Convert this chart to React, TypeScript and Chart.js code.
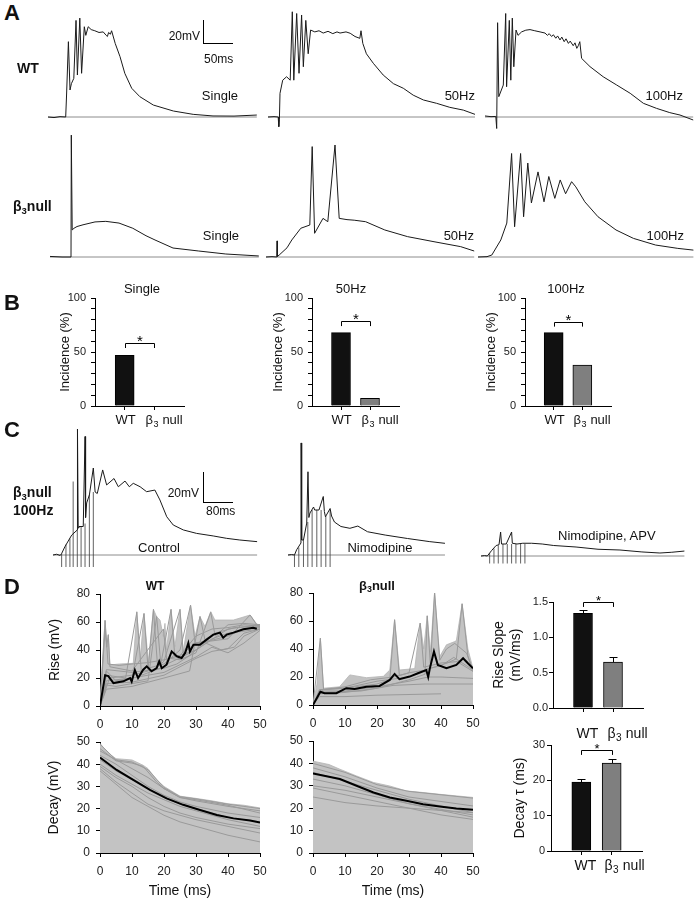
import React, { useEffect, useRef } from "react";
import { Chart, registerables } from "chart.js";

Chart.register(...registerables);

const FONT = '"Liberation Sans", Arial, Helvetica, sans-serif';
Chart.defaults.font.family = FONT;
Chart.defaults.color = "#1a1a1a";

type Pt = [number, number];

// ---------- Panel A traces: [time ms, mV above baseline] ----------
const wtSingle: Pt[] = [[0,0],[10,-0.5],[20,0.3],[29.5,0],[31,20],[34,65.5],[36.7,23.5],[39,29],[43,33.6],[46.7,84],[49,36.5],[53,86],[56,38],[60.5,78.5],[63,71],[67,78.5],[72,76],[78,75],[85,73.5],[92,74],[97,71],[99,70],[101,73.5],[104,72],[106,75],[112,64],[120,52.5],[128,38],[139.5,25],[153,17.7],[175.5,10.4],[209,5.2],[242,2.3],[275,0.9],[310,0.8],[348,1.7]];
const wt50: Pt[] = [[0,0],[10,0.3],[17,0],[18,-8.4],[19,-2],[20,20.6],[24.5,32],[31,35],[37,32],[40.5,91.5],[43,32],[47.8,90],[51.7,38],[56,88.7],[58.9,43.7],[63,84],[67,55],[71,75.6],[78,74],[85,75],[92,73],[100,74.5],[108,72.5],[115,74],[120,73],[130,74],[137,72.8],[145,70],[150,69],[153,68.4],[155,75],[158,64],[164,55],[175.5,46.7],[192,36.5],[209,29],[225.5,25],[242,19],[259,14.8],[281,11.9],[303,8.4],[325.5,6],[345,2.3]];
const wt100: Pt[] = [[0,0.9],[10,0.3],[18,0.5],[19.5,-10],[21,82],[23,17.7],[30.5,27.8],[34.5,90],[36,26.3],[40.5,84],[43,32],[45.5,86],[48,43.7],[51.7,75.6],[55,71],[61,74],[68,75.5],[75,76],[83,75],[91.7,74],[100,73],[104,71],[107,72.5],[111,70],[114,71.5],[118,68.5],[121,70.5],[125,67],[128,69.5],[132,65.5],[135,68],[139,64],[142,66],[147,62],[150,64.5],[153,59.7],[155.5,62],[158,65.5],[161,51],[175,43.8],[197,35],[219.5,27.8],[242,20.6],[264,11.9],[286,7.5],[308,3.8],[325,1.7],[347,-2.6]];
const b3Single: Pt[] = [[0,0.5],[20,0],[35,0],[35.5,106],[37,23.5],[40,25],[45,26.5],[55,28],[75,30.5],[93,31],[115,29.5],[138,25],[160,18.5],[175,14.8],[205,7.8],[248,5.2],[293,2.6],[348,0.9]];
const b350: Pt[] = [[0,0],[10,0.3],[18,0],[18.5,14],[19,0.5],[22,1.7],[35,8],[43,14.8],[58,25],[73,27.8],[77,96],[81,20.6],[95,33.6],[103,30.7],[115,97.4],[122,33.6],[135,32.5],[147,32],[166,30.7],[198,23.5],[236,17.7],[280,13.3],[324.5,9],[347,5.2]];
const b3100: Pt[] = [[0,0],[15,0.3],[23,1.7],[38,14.8],[48,29.5],[56,90],[61,26.3],[71,90],[76,35],[83,81.7],[89,47],[100,74],[110,48],[118,70],[128,51],[137,67],[146,55],[156,65.5],[163,61],[178,48],[200,35],[230,23.5],[259,16.2],[296,10.4],[333,7.5],[359,6]];

// ---------- Panel B incidence (%) ----------
const groupLabels = ["WT", "β", "3", "null"];
const incSingle = [47, 0];
const inc50 = [68, 7];
const inc100 = [68, 38];

// ---------- Panel C traces ----------
const controlTrace: Pt[] = [[0,0],[10,0.5],[20,-0.3],[24,1],[33,5.5],[52,13.3],[67.5,16.7],[68,84],[70,18],[72,19],[84,19],[89,79],[90.5,25],[93.5,34.7],[101,40],[112,58],[117,42],[123,41],[138,56.7],[149,46.7],[169.5,51],[181.5,45.5],[200,49.3],[212,45.5],[223,47.8],[242,45.5],[260,42.2],[283,43.3],[297,36.7],[316,25.5],[334,20],[362,16.7],[399,14.4],[445,12.7],[482.5,11.1],[519,10],[567,8.9]];
const controlStims = [24, 36, 47, 56, 67.5, 78, 89, 101, 112];
const controlStimTops = [1, 7, 11, 49, 17, 19, 21, 40, 42];
const nimTrace: Pt[] = [[0,0],[10,0.3],[18,0],[24,3.5],[36,8],[36.5,74.7],[38,10],[43,10],[52,21.3],[55.5,55.5],[58,25],[61,28],[71,32],[74,30],[86,30],[98,39],[101,29],[104,25.5],[117,31],[121,26],[129,22],[147,19],[172,17.8],[194,19.3],[221,15.5],[270,13.3],[332,11],[394,8.9],[436,7.8]];
const nimStims = [18, 30, 43, 55, 67, 80, 92, 105, 117];
const nimStimTops = [0, 5, 10, 22, 30, 30, 30, 26, 30];
const apvTrace: Pt[] = [[0,0],[10,0.3],[17.5,0],[30,3.8],[42,7],[50,7.5],[54.5,16],[57,8],[70,8],[85,16],[87,8.5],[100,8],[116,8.5],[140.5,8.5],[170,8],[202,7],[264,6],[325,4.5],[386,4],[447,2.7],[497,2],[530,2.5],[565,3.3]];
const apvStims = [24, 36, 48, 61, 73, 85, 97, 110, 122];
const apvStimTops = [2, 5, 7, 8, 8, 8, 8, 8, 8];

// ---------- Panel D ----------
const wtRiseEnvelope: Pt[] = [[0,0],[1.56,61.4],[2.08,42.4],[2.6,50.7],[3.1,29.3],[6,30],[10.4,30.5],[11.5,67.4],[12.5,31.7],[13.75,66.2],[15.1,31],[16.7,69],[17.7,63.8],[18.75,61.4],[19.8,49.5],[20.3,59],[20.8,40],[22.2,69],[23.4,42.4],[25,69],[26,38.5],[28.3,72.1],[29.7,50],[31.25,63.8],[32.8,56.7],[34.6,67.4],[35.9,61.4],[41.7,61.4],[46.9,65],[49,58.5],[50,58]];
const wtRiseMean: Pt[] = [[0,0],[1.6,22],[2.6,21.4],[4.2,16.4],[7.3,17.6],[9.4,20],[9.9,17.5],[10.9,25.7],[11.9,20],[13.5,25.9],[14.6,28.3],[16.1,24.8],[17.7,27.1],[18.5,31.9],[19.3,27],[20.8,29.5],[22.4,39],[24,35.5],[25.5,34.3],[26.6,37.9],[27.6,45],[28.1,39],[29.2,43.8],[31.25,43.8],[33.3,47.4],[35.4,51],[37.5,52.4],[38.5,48.8],[39.6,51],[41.7,52.4],[44.8,54.8],[47.9,55.9],[49,55.2]];
const wtRiseTraces: Pt[][] = [
  [[0,0],[1.6,61],[2.5,30],[6,29],[10,30],[15,31],[20,33],[25,36],[30,50],[35,55],[40,56],[45,58],[50,57]],
  [[0,0],[2,25],[5,18],[10,20],[13.75,66],[15,27],[20,30],[25,40],[28.3,72],[29.7,45],[35,47],[40,50],[45,55],[50,56]],
  [[0,0],[2,15],[5,14],[10,16],[15,18],[17.7,64],[19,30],[22.2,69],[23.4,35],[30,40],[35,48],[40,52],[50,55]],
  [[0,0],[3,20],[10,22],[15,25],[16.7,69],[18,28],[20,32],[25,69],[26,38],[30,45],[40,48],[46.9,65],[49,58],[50,57]],
  [[0,0],[2,12],[10,14],[20,20],[28,25],[31.25,64],[33,45],[38,40],[42,42],[45,50],[50,55]],
  [[0,0],[2,22],[8,20],[11.5,67],[13,22],[20,28],[22,34],[25,33],[30,38],[34.6,67],[36,50],[40,58],[45,59],[50,58]],
  [[0,0],[2,18],[10,20],[20,24],[30,35],[35,42],[40,38],[45,45],[50,54]],
  [[0,0],[1.6,55],[2.1,42],[2.6,51],[3.1,28],[10,25],[19.8,55],[21,30],[30,40],[40,55],[50,58]],
  [[0,0],[2,16],[10,17],[20,22],[25,28],[30,34],[35,39],[40,41],[45,52],[50,55]],
  [[0,0],[2,26],[10,24],[20,27],[24,30],[28,36],[32,44],[36,52],[42,56],[48,57],[50,57]],
];
const b3RiseEnvelope: Pt[] = [[0,0],[1.25,15],[2.3,47.7],[3.3,12],[8.3,13],[11.5,21.5],[16.7,19.5],[22,20.5],[24,25],[25.5,60.9],[27,25],[31.8,26],[33.5,58.5],[34.6,40],[35.7,63.7],[36.7,38],[38,80.4],[39.6,34.6],[41.7,43],[44.3,45.3],[44.8,46],[46.6,72.3],[48.4,40],[50,26]];
const b3RiseMean: Pt[] = [[0,0],[2.3,9.5],[3.6,8.4],[7.3,8.4],[10.4,12],[13,11.5],[16.7,13.1],[20.8,13.6],[24,17.9],[25.5,22.2],[27,18.4],[30.2,20.3],[32.8,22.7],[35.4,25],[36,20],[36.5,26],[37.8,38.2],[39,28.6],[41.7,26.3],[44.8,28.6],[46.9,33.4],[48.4,29.8],[50,26.2]];
const b3RiseTraces: Pt[][] = [
  [[0,0],[2.3,47.7],[3.3,11],[10,12],[20,15],[24,18],[25.5,60.9],[27,21],[30,23],[33.5,58.5],[34.6,27],[40,30],[45,31],[50,24]],
  [[0,0],[2,8],[10,9],[20,12],[30,18],[35,22],[35.7,63.7],[36.7,28],[38,80.4],[39.6,32],[41.7,40],[44.3,44],[48,37],[50,25]],
  [[0,0],[2,6],[10,6],[20,7],[30,7.5],[40,8]],
  [[0,0],[2,10],[10,10],[20,13],[30,17],[36,20],[40,20],[50,19]],
  [[0,0],[3,11],[10,13],[18,18],[25,20],[30,23],[35,25],[42,30],[44.8,33],[46.6,72.3],[48.4,35],[50,24]],
  [[0,0],[2,9],[15,10],[25,14],[35,15],[45,15],[50,15]],
  [[0,0],[2,11],[10,12],[20,17],[30,20],[36,26],[40,28],[44,34],[50,25]],
];
const wtDecayEnvelope: Pt[] = [[0,49.4],[2.5,45],[5,42.5],[10,41.9],[13.5,39.5],[15,38],[17.7,33],[20,30],[25,25.6],[30,24.6],[35,23.5],[40,22.2],[45,21.5],[50,20.3]];
const wtDecayMean: Pt[] = [[0,43],[5.2,37.4],[10.4,32.9],[15.6,28.4],[20.8,24.6],[26,21.7],[31.25,19.4],[36.5,17.1],[41.7,15.6],[46.9,14.6],[50,13.7]];
const wtDecayTraces: Pt[][] = [
  [[0,49],[5,42],[10,41],[15,37.5],[20,29.5],[25,25.4],[30,24.4],[35,23.2],[40,22],[50,20]],
  [[0,47],[5,41.5],[10,40.5],[13.5,39],[17.7,32],[20,29],[25,25],[30,24],[40,21.5],[50,18]],
  [[0,46],[5,42],[10,38],[15,34],[20,29],[25,25],[30,23.5],[40,21],[50,19]],
  [[0,44],[5,40],[10,35],[15,30],[20,26],[25,23],[30,21],[40,18],[50,16]],
  [[0,42],[5,37],[10,33],[15,29],[20,25],[25,22],[30,20],[40,16],[50,14]],
  [[0,40],[5,35],[10,31],[15,27],[20,24],[25,21],[30,19],[40,15],[50,12]],
  [[0,39],[5,34],[10,30],[15,25],[20,21],[25,18],[30,16],[40,13],[50,11]],
  [[0,38],[5,32],[10,27],[15,22],[20,19],[25,17],[30,15],[40,12],[50,9]],
  [[0,37],[5,31],[10,25],[15,21],[20,17],[25,14],[30,12],[40,8],[50,5]],
];
const b3DecayEnvelope: Pt[] = [[0,41],[5,39.5],[8.4,37.4],[13.6,34.4],[18.9,31.5],[24,29.9],[29.2,27.7],[34.4,27],[39.6,26.2],[44.8,25.5],[50,24.8]];
const b3DecayMean: Pt[] = [[0,35.5],[8.4,33],[13.6,30],[18.9,27],[24,24.8],[29.2,23.3],[34.4,21.8],[39.6,20.8],[44.8,19.9],[50,19.3]];
const b3DecayTraces: Pt[][] = [
  [[0,40],[10,36],[20,30.5],[30,27.5],[40,26],[50,24.5]],
  [[0,38],[10,34],[20,29],[30,25],[40,23],[50,21]],
  [[0,36],[10,32],[20,28],[30,24],[40,21],[50,18]],
  [[0,33],[10,30],[20,26],[30,22],[40,19],[50,16]],
  [[0,30],[10,28],[20,25],[30,22],[40,19.5],[50,17]],
  [[0,25],[10,22.5],[20,21],[30,20],[40,19],[50,18]],
  [[0,29],[10,26],[20,23],[30,20],[40,17],[50,15]],
];
const riseSlope = [1.34, 0.65];
const riseSlopeErr = [0.04, 0.07];
const decayTau = [19.5, 24.9];
const decayTauErr = [0.8, 1.0];

// ---------- helpers ----------
const toXY = (a: Pt[]) => a.map(([x, y]) => ({ x, y }));
const tickGrid = { display: true, drawOnChartArea: false, drawTicks: true, tickLength: 4, tickColor: "#000", lineWidth: 1, offset: false };
const axisBorder = { display: true, color: "#000", width: 1 };

function ChartCanvas({ left, top, width, height, make }: any) {
  const ref = useRef<HTMLCanvasElement>(null);
  useEffect(() => {
    const c = new Chart(ref.current as HTMLCanvasElement, make());
    return () => c.destroy();
  }, []);
  return <canvas ref={ref} width={width} height={height} style={{ position: "absolute", left, top, width, height }} />;
}

function Txt({ x, y, s = 13, b = false, a = "left", children }: any) {
  const tx = a === "left" ? "0" : a === "right" ? "-100%" : "-50%";
  return (
    <div style={{ position: "absolute", left: x, top: y - 0.8465 * s, fontFamily: FONT, fontSize: s, fontWeight: b ? 700 : 400, lineHeight: 1, whiteSpace: "nowrap", transform: `translateX(${tx})`, color: "#111" }}>
      {children}
    </div>
  );
}

const Beta = () => (
  <>β<span style={{ fontSize: "0.68em", position: "relative", top: "0.28em" }}>3</span>null</>
);

function TracePanel({ x0, base, tEnd, msPx, mvPx, trace, stims, stimTops, stimLow }: any) {
  const padL = 10, padR = 12, above = 140, below = 22;
  const left = Math.round(x0 - padL);
  const pl = x0 - left;
  const width = Math.ceil(pl + tEnd * msPx + padR);
  const top = Math.round(base - above);
  const ab = base - top;
  const height = Math.ceil(ab + below);
  const make = () => {
    const datasets: any[] = [
      { data: toXY(trace), borderColor: "#1a1a1a", borderWidth: 1, order: 1 },
      { data: [{ x: 0, y: 0 }, { x: tEnd, y: 0 }], borderColor: "#8c8c8c", borderWidth: 1, order: 3 },
    ];
    (stims || []).forEach((t: number, i: number) => {
      datasets.push({ data: [{ x: t, y: stimLow }, { x: t, y: stimTops[i] }], borderColor: "#3a3a3a", borderWidth: 0.8, order: 2 });
    });
    datasets.forEach((d) => { d.pointRadius = 0; d.tension = 0; d.fill = false; d.clip = false; });
    return {
      type: "line",
      data: { datasets },
      options: {
        animation: false, responsive: false, events: [],
        layout: { padding: 0 },
        plugins: { legend: { display: false }, tooltip: { enabled: false } },
        scales: {
          x: { type: "linear", display: false, min: -pl / msPx, max: (width - pl) / msPx },
          y: { type: "linear", display: false, min: -(height - ab) / mvPx, max: ab / mvPx },
        },
      },
    };
  };
  return <ChartCanvas left={left} top={top} width={width} height={height} make={make} />;
}

function axisBox(areaLeft: number, areaTop: number, areaW: number, areaH: number, yW: number, xH: number) {
  const padT = 16, padR = 16;
  const left = Math.round(areaLeft - yW);
  const yw = areaLeft - left;
  const top = areaTop - padT;
  const width = Math.ceil(yw + areaW + padR);
  const pr = width - yw - areaW;
  const height = Math.ceil(padT + areaH + xH + 2);
  const pb = height - padT - areaH - xH;
  return { left, top, width, height, yw, padding: { top: padT, right: pr, bottom: pb, left: 0 } };
}

function LinePlot(p: any) {
  const b = axisBox(p.areaLeft, p.areaTop, 160, p.areaH, p.yW, p.xH);
  const make = () => ({
    type: "line",
    data: {
      datasets: [
        { data: toXY(p.mean), borderColor: "#000", borderWidth: 2, order: 1 },
        ...p.traces.map((t: Pt[]) => ({ data: toXY(t), borderColor: "#9a9a9a", borderWidth: 1, order: 2 })),
        { data: toXY(p.envelope), borderColor: "#b4b4b4", borderWidth: 0.8, backgroundColor: "#c3c3c3", fill: "origin", order: 3 },
      ].map((d: any) => ({ ...d, pointRadius: 0, tension: 0 })),
    },
    options: {
      animation: false, responsive: false, events: [],
      layout: { padding: b.padding },
      plugins: { legend: { display: false }, tooltip: { enabled: false } },
      scales: {
        x: {
          type: "linear", min: 0, max: 50,
          afterFit: (s: any) => { s.height = p.xH; },
          ticks: { stepSize: 10, font: { size: 12 }, padding: 7, maxRotation: 0, color: "#222" },
          grid: tickGrid, border: axisBorder,
          title: p.xTitle ? { display: true, text: p.xTitle, font: { size: 14 }, padding: 0, color: "#111" } : { display: false },
        },
        y: {
          type: "linear", min: 0, max: p.yMax,
          afterFit: (s: any) => { s.width = b.yw; },
          ticks: { stepSize: p.yStep, font: { size: 12 }, padding: 6, color: "#222" },
          grid: tickGrid, border: axisBorder,
          title: p.yTitle ? { display: true, text: p.yTitle, font: { size: 14 }, padding: 0, color: "#111" } : { display: false },
        },
      },
    },
  });
  return <ChartCanvas left={b.left} top={b.top} width={b.width} height={b.height} make={make} />;
}

function BarPlot(p: any) {
  const b = axisBox(p.areaLeft, p.areaTop, p.areaW, p.areaH, p.yW, p.xH);
  const annot = {
    id: "annot",
    afterDatasetsDraw(chart: any) {
      const { ctx, scales, chartArea } = chart;
      const x = scales.x, y = scales.y;
      ctx.save();
      ctx.strokeStyle = "#000";
      ctx.lineWidth = 1;
      if (p.errs) {
        p.errs.forEach((e: number, i: number) => {
          const px = Math.round(x.getPixelForValue(i + 1)) + 0.5;
          const y0 = y.getPixelForValue(p.values[i]);
          const y1 = Math.round(y.getPixelForValue(p.values[i] + e)) + 0.5;
          ctx.beginPath();
          ctx.moveTo(px, y0); ctx.lineTo(px, y1);
          ctx.moveTo(px - 4, y1); ctx.lineTo(px + 4, y1);
          ctx.stroke();
        });
      }
      const bx1 = Math.round(x.getPixelForValue(1)) + 0.5;
      const bx2 = Math.round(x.getPixelForValue(2)) + 0.5;
      const by = Math.round(y.getPixelForValue(p.bracket[0])) + 0.5;
      const byd = y.getPixelForValue(p.bracket[1]);
      ctx.beginPath();
      ctx.moveTo(bx1, byd); ctx.lineTo(bx1, by); ctx.lineTo(bx2, by); ctx.lineTo(bx2, byd);
      ctx.stroke();
      ctx.fillStyle = "#000";
      ctx.font = `${p.starSize}px ${FONT}`;
      ctx.textAlign = "center";
      ctx.textBaseline = "alphabetic";
      ctx.fillText("*", (bx1 + bx2) / 2, by - p.starGap + 0.57 * p.starSize);
      // group labels: "WT" and "β3 null" (subscript 3)
      const f = p.xFont;
      const base = chartArea.bottom + p.labelBase;
      ctx.fillStyle = "#111";
      ctx.font = `${f}px ${FONT}`;
      ctx.fillText(groupLabels[0], bx1 + p.wtOff, base);
      ctx.textAlign = "left";
      let xx = bx2 + p.betaOff;
      ctx.fillText(groupLabels[1], xx, base);
      xx += ctx.measureText(groupLabels[1]).width + 0.5;
      ctx.font = `${Math.round(f * 0.68)}px ${FONT}`;
      ctx.fillText(groupLabels[2], xx, base + f * 0.24);
      xx += ctx.measureText(groupLabels[2]).width + f * 0.3;
      ctx.font = `${f}px ${FONT}`;
      ctx.fillText(groupLabels[3], xx, base);
      ctx.restore();
    },
  };
  const make = () => ({
    type: "bar",
    data: {
      datasets: [{
        data: p.values.map((v: number, i: number) => ({ x: i + 1, y: v })),
        backgroundColor: ["#111111", "#7f7f7f"],
        borderColor: "#000",
        borderWidth: 1,
        borderSkipped: "start",
        barThickness: p.barW,
      }],
    },
    plugins: [annot],
    options: {
      animation: false, responsive: false, events: [],
      layout: { padding: b.padding },
      plugins: { legend: { display: false }, tooltip: { enabled: false } },
      scales: {
        x: {
          type: "linear", min: 0, max: 3, offset: false,
          afterFit: (s: any) => { s.height = p.xH; },
          afterBuildTicks: (s: any) => { s.ticks = [{ value: 1 }, { value: 2 }]; },
          ticks: { callback: () => "", font: { size: p.xFont }, padding: 2, maxRotation: 0, autoSkip: false },
          grid: tickGrid, border: axisBorder,
        },
        y: {
          type: "linear", min: 0, max: p.yMax,
          afterFit: (s: any) => { s.width = b.yw; },
          ticks: {
            stepSize: p.yStep, autoSkip: false, font: { size: 11 }, padding: p.yPad, color: "#222",
            callback: (v: number) => (p.labelEvery && Math.abs(v % p.labelEvery) > 1e-6 ? "" : v.toFixed(p.dec || 0)),
          },
          grid: tickGrid, border: axisBorder,
          title: { display: true, text: p.yTitle, font: { size: p.yTitleSize }, padding: 0, color: "#111" },
        },
      },
    },
  });
  return <ChartCanvas left={b.left} top={b.top} width={b.width} height={b.height} make={make} />;
}

function HLine({ x, y, w }: any) {
  return <div style={{ position: "absolute", left: x, top: y, width: w, height: 0, borderTop: "1px solid #000" }} />;
}
function VLine({ x, y, h }: any) {
  return <div style={{ position: "absolute", left: x, top: y, width: 0, height: h, borderLeft: "1px solid #000" }} />;
}

export default function App() {
  const A = { msPx: 0.6, mvPx: 1.15 };
  const C = { msPx: 0.36, mvPx: 1.5 };
  const Bcommon = { areaTop: 298, areaH: 108, xH: 26, yMax: 100, yStep: 10, labelEvery: 50, yPad: 5, xFont: 13, labelBase: 18, wtOff: 0, betaOff: -9, yTitle: "Incidence (%)", yTitleSize: 13, starSize: 15, starGap: 6, barW: 19 };
  return (
    <div style={{ position: "absolute", left: 0, top: 0, width: 695, height: 900, background: "#fff", overflow: "hidden", fontFamily: FONT }}>
      {/* Panel A */}
      <TracePanel x0={48} base={117} tEnd={348} {...A} trace={wtSingle} />
      <TracePanel x0={268} base={117} tEnd={345} {...A} trace={wt50} />
      <TracePanel x0={485} base={117} tEnd={347} {...A} trace={wt100} />
      <TracePanel x0={50} base={257} tEnd={348} {...A} trace={b3Single} />
      <TracePanel x0={266} base={257} tEnd={347} {...A} trace={b350} />
      <TracePanel x0={478} base={257} tEnd={359} {...A} trace={b3100} />
      <Txt x={4} y={21} s={22} b>A</Txt>
      <Txt x={17} y={73} s={14} b>WT</Txt>
      <Txt x={13} y={211} s={14} b><Beta /></Txt>
      <VLine x={203} y={20} h={23} />
      <HLine x={203} y={43} w={30} />
      <Txt x={200} y={40} s={12} a="right">20mV</Txt>
      <Txt x={204} y={63} s={12}>50ms</Txt>
      <Txt x={238} y={100} s={13} a="right">Single</Txt>
      <Txt x={475} y={100} s={13} a="right">50Hz</Txt>
      <Txt x={683} y={100} s={13} a="right">100Hz</Txt>
      <Txt x={239} y={240} s={13} a="right">Single</Txt>
      <Txt x={474} y={240} s={13} a="right">50Hz</Txt>
      <Txt x={684} y={240} s={13} a="right">100Hz</Txt>

      {/* Panel B */}
      <Txt x={4} y={311} s={22} b>B</Txt>
      <Txt x={142} y={293} s={13} a="center">Single</Txt>
      <Txt x={351} y={293} s={13} a="center">50Hz</Txt>
      <Txt x={566} y={293} s={13} a="center">100Hz</Txt>
      <BarPlot {...Bcommon} areaLeft={95} areaW={89} yW={36.8} values={incSingle} bracket={[58.6, 53.7]} />
      <BarPlot {...Bcommon} areaLeft={312} areaW={87} yW={40.8} values={inc50} bracket={[78.7, 74]} />
      <BarPlot {...Bcommon} areaLeft={525} areaW={86} yW={40.8} values={inc100} bracket={[78, 73.5]} />

      {/* Panel C */}
      <TracePanel x0={53} base={555} tEnd={567} {...C} trace={controlTrace} stims={controlStims} stimTops={controlStimTops} stimLow={-8} />
      <TracePanel x0={288} base={555} tEnd={436} {...C} trace={nimTrace} stims={nimStims} stimTops={nimStimTops} stimLow={-8} />
      <TracePanel x0={481} base={556} tEnd={565} {...C} trace={apvTrace} stims={apvStims} stimTops={apvStimTops} stimLow={-5} />
      <Txt x={4} y={438} s={22} b>C</Txt>
      <Txt x={13} y={497} s={14} b><Beta /></Txt>
      <Txt x={13} y={515} s={14} b>100Hz</Txt>
      <VLine x={203} y={472} h={30} />
      <HLine x={203} y={502} w={30} />
      <Txt x={199} y={497} s={12} a="right">20mV</Txt>
      <Txt x={206} y={515} s={12}>80ms</Txt>
      <Txt x={159} y={552} s={13} a="center">Control</Txt>
      <Txt x={380} y={552} s={13} a="center">Nimodipine</Txt>
      <Txt x={558} y={540} s={13}>Nimodipine, APV</Txt>

      {/* Panel D */}
      <Txt x={4} y={595} s={22} b>D</Txt>
      <Txt x={155} y={590} s={12} b a="center">WT</Txt>
      <Txt x={377} y={590} s={13} b a="center"><Beta /></Txt>
      <LinePlot areaLeft={100} areaTop={594} areaH={112} yW={53.4} xH={24} yMax={80} yStep={20} yTitle="Rise (mV)" envelope={wtRiseEnvelope} traces={wtRiseTraces} mean={wtRiseMean} />
      <LinePlot areaLeft={313} areaTop={593} areaH={112} yW={30} xH={24} yMax={80} yStep={20} envelope={b3RiseEnvelope} traces={b3RiseTraces} mean={b3RiseMean} />
      <LinePlot areaLeft={100} areaTop={742} areaH={111} yW={54.4} xH={47} yMax={50} yStep={10} yTitle="Decay (mV)" xTitle="Time (ms)" envelope={wtDecayEnvelope} traces={wtDecayTraces} mean={wtDecayMean} />
      <LinePlot areaLeft={313} areaTop={741} areaH={112} yW={30} xH={47} yMax={50} yStep={10} xTitle="Time (ms)" envelope={b3DecayEnvelope} traces={b3DecayTraces} mean={b3DecayMean} />
      <BarPlot areaLeft={553} areaTop={602} areaW={90} areaH={106} yW={62.4} xH={40} values={riseSlope} errs={riseSlopeErr} yMax={1.5} yStep={0.5} dec={1} yPad={1} xFont={14} labelBase={30} wtOff={4} betaOff={-6} yTitle={["Rise Slope", "(mV/ms)"]} yTitleSize={14} bracket={[1.5, 1.43]} starSize={13} starGap={5} barW={19} />
      <BarPlot areaLeft={551} areaTop={745} areaW={91} areaH={106} yW={39.4} xH={30} values={decayTau} errs={decayTauErr} yMax={30} yStep={10} yPad={2} xFont={14} labelBase={19} wtOff={4} betaOff={-8} yTitle="Decay τ (ms)" yTitleSize={14} bracket={[28.6, 27.2]} starSize={13} starGap={5} barW={19} />
    </div>
  );
}
